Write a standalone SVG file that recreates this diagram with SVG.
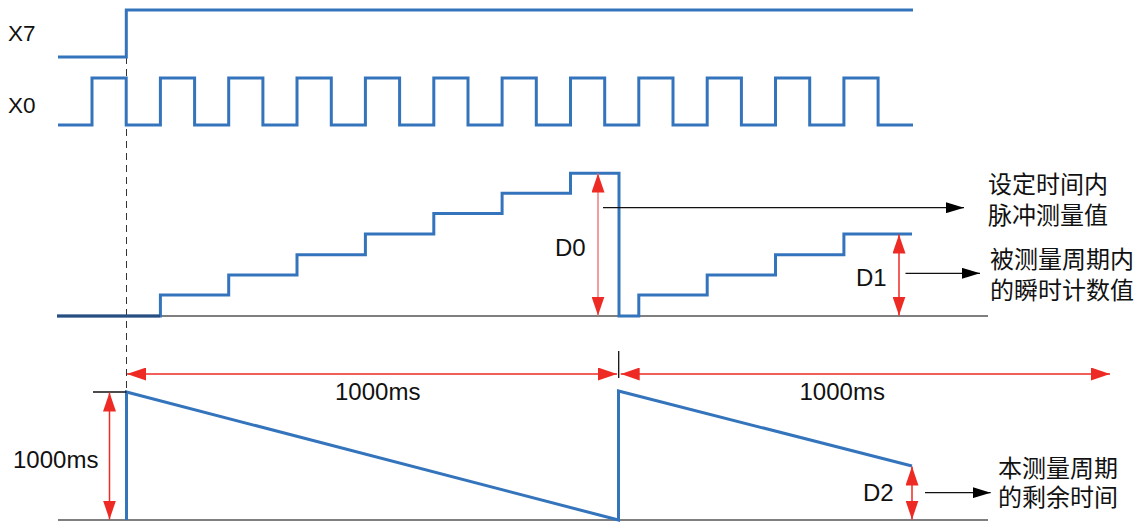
<svg xmlns="http://www.w3.org/2000/svg" width="1147" height="524" viewBox="0 0 1147 524">
<style>
.sig{fill:none;stroke:#3474BC;stroke-width:3;stroke-linejoin:miter;stroke-linecap:butt}
.base{fill:none;stroke:#555;stroke-width:1.5}
.red{fill:none;stroke:#EE2A24;stroke-width:1.5}
.redl{fill:none;stroke:#F27C7C;stroke-width:1.5}
.blk{fill:none;stroke:#111;stroke-width:1.3}
.lat{font-family:"Liberation Sans",Arial,sans-serif;font-size:24px;fill:#111}
.sm{font-size:22.5px}
.cjk{font-family:"Noto Sans CJK SC","Liberation Sans",sans-serif;font-size:24px;fill:#111}
</style>
<defs>
<marker id="ra" markerUnits="userSpaceOnUse" markerWidth="19" markerHeight="13" refX="19" refY="6.5" orient="auto-start-reverse" viewBox="0 0 19 13"><path d="M0,0 L19,6.5 L0,13 z" fill="#EE2A24"/></marker>
<marker id="ba" markerUnits="userSpaceOnUse" markerWidth="18" markerHeight="11" refX="18" refY="5.5" orient="auto" viewBox="0 0 18 11"><path d="M0,0 L18,5.5 L0,11 z" fill="#000"/></marker>
</defs>
<rect width="1147" height="524" fill="#fff"/>

<g id="labels">
<text class="lat sm" x="8" y="41">X7</text>
<text class="lat sm" x="8" y="113">X0</text>
</g>

<g id="baselines">
<line class="base" x1="57" y1="316" x2="988" y2="316"/>
<line class="base" x1="58" y1="520" x2="988" y2="520"/>
</g>

<g id="dashed">
<line x1="126.5" y1="57" x2="126.5" y2="392" stroke="#333" stroke-width="1" stroke-dasharray="7 5"/>
</g>

<g id="signals">
<path id="X7" class="sig" d="M58,57 H126.3 V10 H913"/>
<path id="X0" class="sig" d="M58,125 H92 V78 H126.2 V125 H160.4 V78 H194.6 V125 H228.7 V78 H262.9 V125 H297 V78 H331.3 V125 H365.4 V78 H399.6 V125 H433.8 V78 H468 V125 H502.1 V78 H536.3 V125 H570.5 V78 H604.7 V125 H638.8 V78 H673 V125 H707.2 V78 H741.4 V125 H775.5 V78 H809.7 V125 H843.9 V78 H878.1 V125 H913"/>
<path id="count" class="sig" d="M57,316 H160.4 V295 H228.7 V275 H297 V254.7 H365.4 V234 H433.8 V213.5 H502.1 V193.3 H570.5 V173.3 H619 V316 H638.8 V295 H707.2 V275 H775.5 V254.7 H843.9 V234 H912"/>
<path id="ramp" class="sig" d="M126.5,520 V392 L618.5,520 V391 L912,466"/>
</g>
<line x1="57" y1="316" x2="160" y2="316" stroke="#1d3557" stroke-width="3" opacity="0.6"/>

<g id="connectors">
<line class="blk" x1="93" y1="392" x2="126.5" y2="392"/>
<line class="blk" x1="618.7" y1="351" x2="618.7" y2="378"/>
<line class="red" x1="127" y1="374" x2="617" y2="374" marker-start="url(#ra)" marker-end="url(#ra)"/>
<line class="red" x1="620.7" y1="374" x2="1110" y2="374" marker-start="url(#ra)" marker-end="url(#ra)"/>
<line class="redl" x1="598" y1="173.5" x2="598" y2="315.5" marker-start="url(#ra)" marker-end="url(#ra)"/>
<line class="red" x1="899" y1="234.5" x2="899" y2="315.5" marker-start="url(#ra)" marker-end="url(#ra)"/>
<line class="red" x1="912" y1="466.5" x2="912" y2="519.5" marker-start="url(#ra)" marker-end="url(#ra)"/>
<line class="red" x1="109.5" y1="392.5" x2="109.5" y2="519.5" marker-start="url(#ra)" marker-end="url(#ra)"/>
<line class="blk" x1="603" y1="207.7" x2="964" y2="207.7" marker-end="url(#ba)"/>
<line class="blk" x1="905.5" y1="273.3" x2="980" y2="273.3" marker-end="url(#ba)"/>
<line class="blk" x1="925" y1="492.7" x2="990.7" y2="492.7" marker-end="url(#ba)"/>
</g>

<g id="values">
<text class="lat" x="555" y="256">D0</text>
<text class="lat" x="856" y="286">D1</text>
<text class="lat" x="863" y="500.5">D2</text>
<text class="lat" x="13" y="468">1000ms</text>
<text class="lat" x="335" y="400">1000ms</text>
<text class="lat" x="799.5" y="400">1000ms</text>
</g>

<g id="notes">
<text class="cjk" x="988" y="193">设定时间内</text>
<text class="cjk" x="988" y="224">脉冲测量值</text>
<text class="cjk" x="990" y="268">被测量周期内</text>
<text class="cjk" x="990" y="299">的瞬时计数值</text>
<text class="cjk" x="998" y="477">本测量周期</text>
<text class="cjk" x="998" y="506">的剩余时间</text>
</g>
</svg>
